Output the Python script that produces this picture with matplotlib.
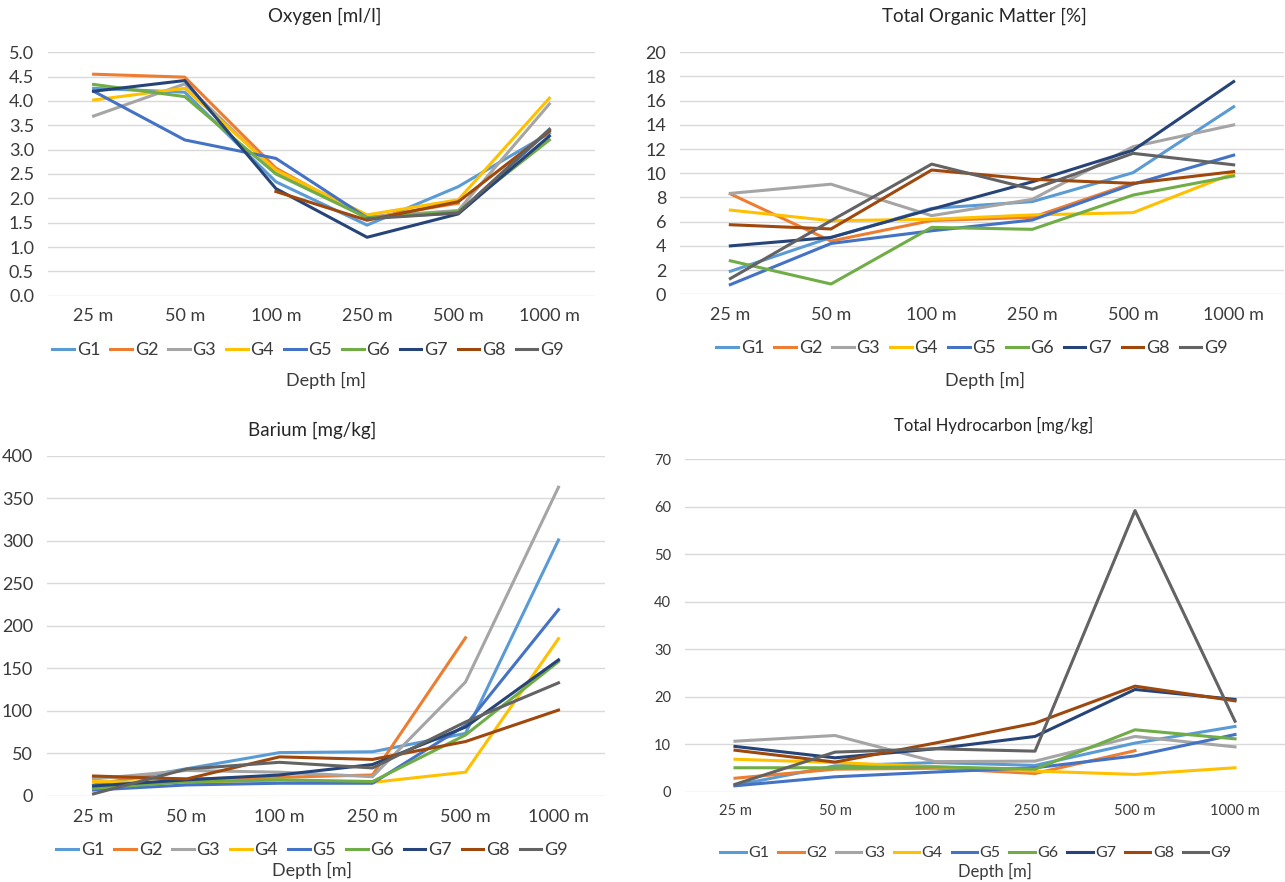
import numpy as np
import matplotlib
matplotlib.use('Agg')
import matplotlib.pyplot as plt

plt.rcParams['font.family'] = ['Lato', 'DejaVu Sans']

nan = np.nan

depths = ['25 m', '50 m', '100 m', '250 m', '500 m', '1000 m']
groups = ['G1', 'G2', 'G3', 'G4', 'G5', 'G6', 'G7', 'G8', 'G9']
colors = ['#5B9BD5', '#ED7D31', '#A5A5A5', '#FFC000', '#4472C4',
          '#70AD47', '#264478', '#9E480E', '#636363']

# Oxygen [ml/l]
oxygen = [
    [4.26, 4.18, 2.34, 1.45, 2.24, 3.34],
    [4.55, 4.49, 2.62, 1.59, 1.90, nan],
    [3.69, 4.35, 2.55, 1.62, 1.75, 3.94],
    [4.02, 4.26, 2.58, 1.66, 1.97, 4.06],
    [4.20, 3.20, 2.82, 1.60, 1.70, 3.40],
    [4.34, 4.09, 2.50, 1.60, 1.73, 3.20],
    [4.20, 4.42, 2.20, 1.20, 1.68, 3.28],
    [nan, nan, 2.14, 1.55, 1.93, 3.38],
    [nan, nan, nan, 1.58, 1.70, 3.42],
]

# Total Organic Matter [%]
tom = [
    [1.9, 4.7, 7.1, 7.66, 10.05, 15.5],
    [8.3, 4.4, 6.1, 6.36, 9.2, nan],
    [8.34, 9.1, 6.5, 7.85, 12.2, 14.0],
    [6.96, 6.08, 6.2, 6.56, 6.75, 10.0],
    [0.8, 4.2, 5.25, 6.14, 9.1, 11.5],
    [2.77, 0.85, 5.53, 5.37, 8.2, 9.78],
    [4.0, 4.7, 7.04, 9.3, 11.9, 17.58],
    [5.75, 5.4, 10.27, 9.5, 9.17, 10.14],
    [1.3, 6.08, 10.76, 8.68, 11.65, 10.7],
]

# Barium [mg/kg]
barium = [
    [13, 32, 51, 52, 73.6, 301],
    [22, 20, 22, 24.7, 186, nan],
    [20, 30, 28, 22.7, 134, 363],
    [17, 16, 18.8, 16, 28, 185],
    [7, 13, 15, 15, 83, 219],
    [9, 16.8, 19, 17, 71.7, 158],
    [11.8, 19, 24.7, 37, 81, 160],
    [23.5, 20, 46, 43, 64, 101],
    [2.5, 31.7, 39.6, 33, 87, 133],
]

# Total Hydrocarbon [mg/kg]
hydrocarbon = [
    [1.3, 5.4, 6.1, 5.5, 10.2, 13.7],
    [2.8, 4.7, 4.9, 3.8, 8.6, nan],
    [10.6, 11.8, 6.3, 6.4, 11.6, 9.4],
    [6.8, 6.1, 5.2, 4.3, 3.6, 5.0],
    [1.2, 3.1, 4.1, 5.0, 7.5, 12.0],
    [5.0, 5.0, 5.2, 4.7, 13.0, 11.1],
    [9.5, 7.1, 9.0, 11.6, 21.5, 19.4],
    [8.7, 6.2, 10.2, 14.4, 22.2, 19.1],
    [1.5, 8.3, 9.0, 8.5, 59.2, 14.8],
]

W, H = 1285, 882
fig = plt.figure(figsize=(W / 100, H / 100), dpi=100)

text_col = '#3A3A3A'


def panel(box, data, ymax, ystep, fmt, title, title_xy, legend_xy, depth_xy,
          fs=13, tfs=13.5, lfs=13, dfs=13, hl=1.2):
    l, t, r, b = box
    ax = fig.add_axes([l / W, 1 - b / H, (r - l) / W, (b - t) / H])
    x = np.arange(len(depths))
    for vals, c, g in zip(data, colors, groups):
        ax.plot(x, vals, color=c, lw=2.2, label=g)
    ax.set_xlim(-0.5, len(depths) - 0.5)
    ax.set_ylim(0, ymax)
    yt = np.arange(0, ymax + ystep / 2, ystep)
    ax.set_yticks(yt)
    ax.set_yticklabels([fmt.format(v) for v in yt])
    ax.set_xticks(x)
    ax.set_xticklabels(depths)
    ax.tick_params(length=0, labelsize=fs, colors=text_col)
    ax.tick_params(axis='x', pad=9)
    ax.tick_params(axis='y', pad=10)
    for s in ax.spines.values():
        s.set_visible(False)
    ax.grid(axis='y', color='#D9D9D9', lw=1)
    ax.set_axisbelow(True)
    fig.text(title_xy[0] / W, 1 - title_xy[1] / H, title, ha='center', va='center',
             fontsize=tfs, color='#262626')
    fig.legend(*ax.get_legend_handles_labels(), loc='center',
               bbox_to_anchor=(legend_xy[0] / W, 1 - legend_xy[1] / H),
               ncol=9, frameon=False, fontsize=lfs, handlelength=hl,
               handletextpad=0.15, columnspacing=0.55, labelcolor=text_col,
               borderpad=0, borderaxespad=0)
    fig.text(depth_xy[0] / W, 1 - depth_xy[1] / H, 'Depth [m]', ha='center', va='center',
             fontsize=dfs, color=text_col)
    return ax


panel((48, 52.3, 595, 295.7), oxygen, 5.0, 0.5, '{:.1f}', 'Oxygen [ml/l]',
      (325, 16), (308, 350), (326, 380))
panel((680, 52.3, 1284, 294.3), tom, 20, 2, '{:.0f}', 'Total Organic Matter [%]',
      (984, 16), (972, 348), (985, 380))
panel((47, 455.7, 605, 796), barium, 400, 50, '{:.0f}', 'Barium [mg/kg]',
      (312, 430), (312, 850), (312, 870))
panel((685, 459.3, 1285, 791.5), hydrocarbon, 70, 10, '{:.0f}', 'Total Hydrocarbon [mg/kg]',
      (994, 425), (976, 853), (995, 871), fs=10.5, tfs=12, lfs=11.5, dfs=12, hl=1.6)

fig.savefig('out.png', dpi=100)
